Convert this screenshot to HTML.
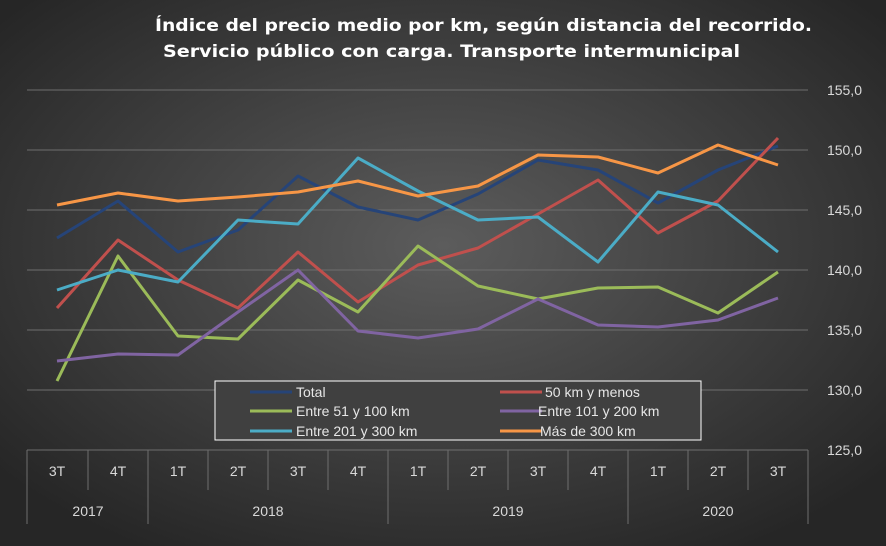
<!DOCTYPE html>
<html><head><meta charset="utf-8"><style>
body{margin:0;width:886px;height:546px;overflow:hidden;background:#000}
svg{display:block;font-family:"Liberation Sans",sans-serif}
</style></head><body>
<svg width="886" height="546" viewBox="0 0 886 546">
<defs><radialGradient id="bg" cx="50%" cy="45%" r="65%">
<stop offset="0" stop-color="#5c5c5c"/><stop offset="1" stop-color="#262626"/></radialGradient></defs>
<rect width="886" height="546" fill="url(#bg)"/>
<text x="155" y="31" fill="#fff" font-size="17" font-weight="bold" font-family="'DejaVu Sans',sans-serif" textLength="657" lengthAdjust="spacingAndGlyphs">Índice del precio medio por km, según distancia del recorrido.</text>
<text x="163" y="57" fill="#fff" font-size="17" font-weight="bold" font-family="'DejaVu Sans',sans-serif" textLength="577" lengthAdjust="spacingAndGlyphs">Servicio público con carga. Transporte intermunicipal</text>
<g stroke="#6e6e6e" stroke-width="1">
<line x1="27" x2="808" y1="90" y2="90"/><line x1="27" x2="808" y1="150" y2="150"/><line x1="27" x2="808" y1="210" y2="210"/>
<line x1="27" x2="808" y1="270" y2="270"/><line x1="27" x2="808" y1="330" y2="330"/><line x1="27" x2="808" y1="390" y2="390"/>
<line x1="27" x2="808" y1="450" y2="450"/>
<line x1="27" x2="27" y1="450" y2="524"/><line x1="148" x2="148" y1="450" y2="524"/><line x1="388" x2="388" y1="450" y2="524"/><line x1="628" x2="628" y1="450" y2="524"/><line x1="808" x2="808" y1="450" y2="524"/>
<line x1="88" x2="88" y1="450" y2="490"/><line x1="208" x2="208" y1="450" y2="490"/><line x1="268" x2="268" y1="450" y2="490"/><line x1="328" x2="328" y1="450" y2="490"/><line x1="448" x2="448" y1="450" y2="490"/><line x1="508" x2="508" y1="450" y2="490"/><line x1="568" x2="568" y1="450" y2="490"/><line x1="688" x2="688" y1="450" y2="490"/><line x1="748" x2="748" y1="450" y2="490"/>
</g>
<g fill="#d9d9d9" font-size="14" text-anchor="end">
<text x="862" y="95">155,0</text><text x="862" y="155">150,0</text><text x="862" y="215">145,0</text><text x="862" y="275">140,0</text><text x="862" y="335">135,0</text><text x="862" y="395">130,0</text><text x="862" y="455">125,0</text>
</g>
<g fill="#d9d9d9" font-size="14" text-anchor="middle">
<text x="57" y="476">3T</text><text x="118" y="476">4T</text><text x="178" y="476">1T</text><text x="238" y="476">2T</text><text x="298" y="476">3T</text><text x="358" y="476">4T</text><text x="418" y="476">1T</text><text x="478" y="476">2T</text><text x="538" y="476">3T</text><text x="598" y="476">4T</text><text x="658" y="476">1T</text><text x="718" y="476">2T</text><text x="778" y="476">3T</text>
<text x="88" y="516">2017</text><text x="268" y="516">2018</text><text x="508" y="516">2019</text><text x="718" y="516">2020</text>
</g>
<g fill="none" stroke-width="3" stroke-linejoin="round">
<polyline stroke="#264478" points="57,238 118,201 178,252 238,230 298,176 358,207 418,220 478,194 538,160 598,170 658,203 718,170 778,146"/>
<polyline stroke="#c0504d" points="57,308 118,240 178,280 238,308 298,252 358,302 418,265 478,248 538,214 598,180 658,233 718,201 778,138"/>
<polyline stroke="#9bbb59" points="57,381 118,256 178,336 238,339 298,280 358,312 418,246 478,286 538,299 598,288 658,287 718,313 778,272"/>
<polyline stroke="#8064a2" points="57,361 118,354 178,355 238,312 298,270 358,331 418,338 478,329 538,299 598,325 658,327 718,320 778,298"/>
<polyline stroke="#4bacc6" points="57,290 118,270 178,282 238,220 298,224 358,158 418,191 478,220 538,217 598,262 658,192 718,205 778,252"/>
<polyline stroke="#f79646" points="57,205 118,193 178,201 238,197 298,192 358,181 418,196 478,186 538,155 598,157 658,173 718,145 778,165"/>
</g>
<rect x="215" y="381" width="486" height="59" fill="#404040" stroke="#fff" stroke-width="1"/>
<g stroke-width="3">
<line x1="250" x2="292" y1="392" y2="392" stroke="#264478"/><line x1="500" x2="542" y1="392" y2="392" stroke="#c0504d"/>
<line x1="250" x2="292" y1="411" y2="411" stroke="#9bbb59"/><line x1="500" x2="542" y1="411" y2="411" stroke="#8064a2"/>
<line x1="250" x2="292" y1="431" y2="431" stroke="#4bacc6"/><line x1="500" x2="542" y1="431" y2="431" stroke="#f79646"/>
</g>
<g fill="#e6e6e6" font-size="14">
<text x="296" y="397">Total</text><text x="545" y="397">50 km y menos</text>
<text x="296" y="416">Entre 51 y 100 km</text><text x="538" y="416">Entre 101 y 200 km</text>
<text x="296" y="436">Entre 201 y 300 km</text><text x="540" y="436">Más de 300 km</text>
</g>
</svg>
</body></html>
